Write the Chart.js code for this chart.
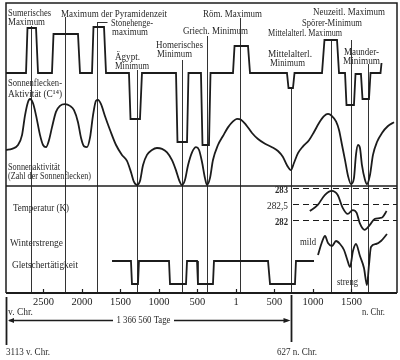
<!DOCTYPE html>
<html><head><meta charset="utf-8">
<script src="https://cdn.jsdelivr.net/npm/chart.js@4/dist/chart.umd.min.js"></script>
<style>html,body{margin:0;padding:0;background:#fff}canvas{display:block}</style>
</head><body>
<canvas id="c" width="400" height="360"></canvas>
<script>
// ---- data (years: negative = v. Chr.) ----
const tickYears = [-2500,-2000,-1500,-1000,-500,1,500,1000,1500];
const tickLabels = ['2500','2000','1500','1000','500','1','500','1000','1500'];

// Sonnenflecken-Aktivität (C14), relative step levels (0 = normal)
const c14Years  = [-2987,-2727,-2708,-2597,-2571,-2390,-2370,-2052,-2026,-1870,-1851,-1714,-1688,-1390,-1370,-1247,-1221,-779,-760,-636,-617,-455,-435,-351,-331,-39,-19,156,182,662,682,740,760,1117,1149,1312,1338,1416,1435,1532,1552,1623,1643,1727,1747,1877,1890];
const c14Values = [0,0,45,45,0,0,39,39,0,0,46,46,0,0,-46,-46,0,0,-69,-69,0,0,-72,-72,0,0,27,27,0,0,-15,-15,0,0,33,33,0,0,-32,-32,-1,-1,-26,-26,0,0,10];

// Sonnenaktivität (Zahl der Sonnenflecken), relative
const sunYears  = [-2987,-2909,-2831,-2779,-2740,-2701,-2675,-2636,-2597,-2545,-2506,-2467,-2429,-2390,-2338,-2286,-2221,-2156,-2104,-2052,-2013,-1974,-1935,-1896,-1857,-1818,-1792,-1753,-1701,-1636,-1558,-1481,-1416,-1364,-1325,-1286,-1247,-1208,-1156,-1091,-1026,-961,-896,-831,-779,-740,-701,-662,-623,-571,-519,-481,-442,-403,-377,-338,-299,-234,-169,-104,-39,13,65,130,208,286,377,468,545,610,662,714,753,805,870,948,1013,1078,1143,1195,1247,1299,1338,1377,1416,1455,1494,1532,1558,1584,1610,1636,1675,1701,1740,1779,1831,1896,1974,2052];
const sunValues = [40.7,42,46.5,58,81,96.5,100,95,81,58,46.5,44,52,67,85,92,94,92,87,73,55,45,44,55,81,98,99,94,80,64,46.5,35,28,15,3.5,0,4.6,23,35,40.7,43,42,38,29,17,6,0,6,23,38,44,41,27,8,0,8,29,46.5,57,67,74,77,76,70,60.5,53.5,48,44,39.5,32.6,23,17.4,25.6,37,45,52,61.6,72,80,82.6,80,74,64,46.5,29,10.5,1,8,35,46.5,43,23,6,1,11.6,35,50,60.5,68.6,73];

// Temperatur (K)
const tempYears  = [959,1062,1153,1244,1321,1386,1451,1516,1567,1606,1671,1736,1800,1865,1904,1956];
const tempValues = [282.28,282.47,282.78,282.91,282.78,282.38,282.19,282.31,282.22,281.91,281.69,281.84,282.03,282.06,282.09,282.28];
const tempTicks  = [283,282.5,282];
const tempTickLabels = ['283','282,5','282'];

// Winterstrenge (hoch = mild, niedrig = streng)
const winterYears  = [1065,1117,1156,1195,1247,1299,1351,1403,1442,1481,1519,1558,1610,1662,1701,1727,1753,1818,1883,1961];
const winterValues = [6,8.6,9.8,8.4,7.8,8.8,8.2,7,5.2,3.6,6.8,8.2,5.8,3.4,0,4,7.6,8.2,8.8,10.2];

// Gletschertätigkeit (1 = hoch, 0 = niedrig)
const glacierYears  = [-1610,-1364,-1351,-1273,-1260,-870,-857,-649,-636,-506,-494,-299,-286,416,442,766,779,1013];
const glacierValues = [1,1,0,0,1,1,0,0,1,1,0,0,1,1,0,0,1,1];

// Ereignisse (Jahre)
const eventNames = ['Sumerisches Maximum','Maximum der Pyramidenzeit','Stonehengemaximum','Ägypt. Minimum','Homerisches Minimum','Griech. Minimum','Röm. Maximum','Mittelalterl. Minimum','Mittelalterl. / Neuzeitl. Maximum','Spörer-Minimum','Maunder-Minimum'];
const eventYears = [-2662,-2221,-1805,-1286,-701,-377,52,714,1234,1494,1714];
const spanYears  = [-2987, 714];      // 3113 v. Chr. ... 627 n. Chr.
const spanLabel  = '1 366 560 Tage';

// ---- layout (pixels) ----
const T = 3, B = 293;
const eventTop = [26,17,22,70,60,36,18,88,40,40,64];
function band(v1,y1,v2,y2){const s=(y1-y2)/(v2-v1);return {min:v1-(B-y1)/s,max:v1+(y1-T)/s};}
const bC14 = band(0,73,45,28), bSun = band(0,185,100,99), bTemp = band(282,220,283,188),
      bWin = band(0,285,10,235), bGla = band(0,284,1,261);

const texts = [
 ['Sumerisches',8,13,43],['Maximum',8,22,37],['Maximum der Pyramidenzeit',61,14,106],
 ['Stonehenge-',111,23,42],['maximum',112,32,36],['Ägypt.',115,57,25],['Minimum',115,66,34],
 ['Homerisches',156,45,47],['Minimum',157,54,35],['Griech. Minimum',183,31,65],
 ['Röm. Maximum',203,14,59],['Neuzeitl. Maximum',313,12,72],['Spörer-Minimum',302,23,60],
 ['Mittelalterl. Maximum',268,33,74],['Mittelalterl.',268,54,44],['Minimum',270,63,35],
 ['Maunder-',344,52,35],['Minimum',343,61,37],
 ['Sonnenflecken-',8,83,54],['Aktivität (C¹⁴)',8,94,54],
 ['Sonnenaktivität',8,167,52],['(Zahl der Sonnenflecken)',8,176,83],
 ['Temperatur (K)',13,208,56],['Winterstrenge',10,243,53],['Gletschertätigkeit',12,265,66],
 ['mild',300,242,16],['streng',337,282,21],
 ['v. Chr.',8,312,25],['n. Chr.',362,312,23],['3113 v. Chr.',6,352,44],['627 n. Chr.',277,352,40]
];

function pts(xs,ys){return xs.map((x,i)=>({x:x,y:ys[i]}));}
const ink = '#1c1c1c';

const overlay = {
  id:'overlay',
  beforeDatasetsDraw(chart){
    const {ctx, chartArea:a, scales:s} = chart;
    ctx.save();
    ctx.strokeStyle = '#333'; ctx.lineWidth = 1;
    eventYears.forEach((yr,i)=>{
      const x = Math.round(s.x.getPixelForValue(yr))+0.5;
      ctx.beginPath(); ctx.moveTo(x,eventTop[i]); ctx.lineTo(x,a.bottom); ctx.stroke();
    });
    // Stonehenge bracket
    const xs = Math.round(s.x.getPixelForValue(eventYears[2]))+0.5;
    ctx.beginPath(); ctx.moveTo(xs,22.5); ctx.lineTo(xs+10,22.5); ctx.stroke();
    // dashed temperature lines
    ctx.setLineDash([6,4]); ctx.lineWidth = 1.2; ctx.strokeStyle = ink;
    tempTicks.forEach(t=>{
      const y = Math.round(s.yTemp.getPixelForValue(t))+0.5;
      ctx.beginPath(); ctx.moveTo(293,y); ctx.lineTo(a.right,y); ctx.stroke();
    });
    ctx.restore();
  },
  afterDraw(chart){
    const {ctx, chartArea:a, scales:s} = chart;
    ctx.save();
    ctx.strokeStyle = ink;
    // frame
    ctx.lineWidth = 1.5;
    ctx.beginPath();
    ctx.moveTo(a.left,a.bottom); ctx.lineTo(a.left,a.top); ctx.lineTo(a.right,a.top); ctx.lineTo(a.right,a.bottom);
    ctx.stroke();
    // separator
    const ySep = Math.round(s.ySun.getPixelForValue(0))+1;
    ctx.beginPath(); ctx.moveTo(a.left,ySep); ctx.lineTo(a.right,ySep); ctx.stroke();
    // x axis line
    ctx.lineWidth = 2;
    ctx.beginPath(); ctx.moveTo(a.left,a.bottom); ctx.lineTo(a.right,a.bottom); ctx.stroke();
    // small inner ticks
    ctx.lineWidth = 1.2;
    tickYears.forEach(v=>{
      const x = Math.round(s.x.getPixelForValue(v))+0.5;
      ctx.beginPath(); ctx.moveTo(x,a.bottom-4); ctx.lineTo(x,a.bottom); ctx.stroke();
    });
    // span markers below axis
    const x0 = s.x.getPixelForValue(spanYears[0]), x1 = Math.round(s.x.getPixelForValue(spanYears[1]))+0.5;
    ctx.lineWidth = 1.8;
    ctx.beginPath(); ctx.moveTo(x0+0.5,297); ctx.lineTo(x0+0.5,345); ctx.stroke();
    ctx.beginPath(); ctx.moveTo(x1,295); ctx.lineTo(x1,342); ctx.stroke();
    ctx.lineWidth = 1.4;
    const ya = 320.5;
    ctx.beginPath(); ctx.moveTo(x0+3,ya); ctx.lineTo(113,ya); ctx.moveTo(174,ya); ctx.lineTo(x1-4,ya); ctx.stroke();
    ctx.fillStyle = ink;
    ctx.beginPath(); ctx.moveTo(x0+2,ya); ctx.lineTo(x0+8,ya-2.5); ctx.lineTo(x0+8,ya+2.5); ctx.closePath(); ctx.fill();
    ctx.beginPath(); ctx.moveTo(x1-1,ya); ctx.lineTo(x1-8,ya-2.5); ctx.lineTo(x1-8,ya+2.5); ctx.closePath(); ctx.fill();
    // texts
    ctx.fillStyle = '#2a2a2a';
    ctx.font = '10px "Liberation Serif"';
    ctx.textBaseline = 'middle';
    function put(str,x,y,w,align){
      const m = ctx.measureText(str).width;
      let k = w/m; k = Math.max(0.7,Math.min(1.3,k));
      ctx.save(); ctx.translate(x,y); ctx.scale(k,1);
      ctx.textAlign = 'left';
      ctx.fillText(str, align==='right' ? -m : (align==='center' ? -m/2 : 0), 0);
      ctx.restore();
    }
    texts.forEach(t=>put(t[0],t[1],t[2],t[3],'left'));
    put(spanLabel,143.5,ya,54,'center');
    ctx.font = 'bold 10px "Liberation Serif"';
    tempTicks.forEach((t,i)=>{
      const y = s.yTemp.getPixelForValue(t)+2;
      ctx.font = (i===1?'':'bold ')+'10px "Liberation Serif"';
      put(tempTickLabels[i],288,y,i===1?21:13,'right');
    });
    ctx.restore();
  }
};

const line = {borderColor:ink,pointRadius:0,fill:false,borderWidth:1.8};
new Chart(document.getElementById('c'),{
  type:'line',
  data:{datasets:[
    Object.assign({label:'Sonnenflecken-Aktivität (C14)',data:pts(c14Years,c14Values),yAxisID:'yC14',tension:0,borderJoinStyle:'miter'},line),
    Object.assign({label:'Sonnenaktivität',data:pts(sunYears,sunValues),yAxisID:'ySun',cubicInterpolationMode:'monotone'},line),
    Object.assign({label:'Temperatur (K)',data:pts(tempYears,tempValues),yAxisID:'yTemp',cubicInterpolationMode:'monotone'},line),
    Object.assign({label:'Winterstrenge',data:pts(winterYears,winterValues),yAxisID:'yWin',cubicInterpolationMode:'monotone'},line),
    Object.assign({label:'Gletschertätigkeit',data:pts(glacierYears,glacierValues),yAxisID:'yGla',tension:0,borderJoinStyle:'miter'},line)
  ]},
  options:{
    responsive:false, animation:false, events:[],
    layout:{padding:{left:6,top:3,right:3,bottom:47}},
    plugins:{legend:{display:false},tooltip:{enabled:false}},
    scales:{
      x:{type:'linear',min:-2987,max:2091,
         grid:{display:false,drawTicks:false},border:{display:false},
         afterBuildTicks:sc=>{sc.ticks=tickYears.map(v=>({value:v}));},
         afterFit:sc=>{sc.height=20;},
         ticks:{autoSkip:false,maxRotation:0,padding:3,color:'#222',
           font:{family:'"Liberation Serif"',size:10.5},
           callback:(v,i)=>tickLabels[i]}},
      yC14:{display:false,min:bC14.min,max:bC14.max},
      ySun:{display:false,min:bSun.min,max:bSun.max},
      yTemp:{display:false,min:bTemp.min,max:bTemp.max},
      yWin:{display:false,min:bWin.min,max:bWin.max},
      yGla:{display:false,min:bGla.min,max:bGla.max}
    }
  },
  plugins:[overlay]
});
</script>
</body></html>
